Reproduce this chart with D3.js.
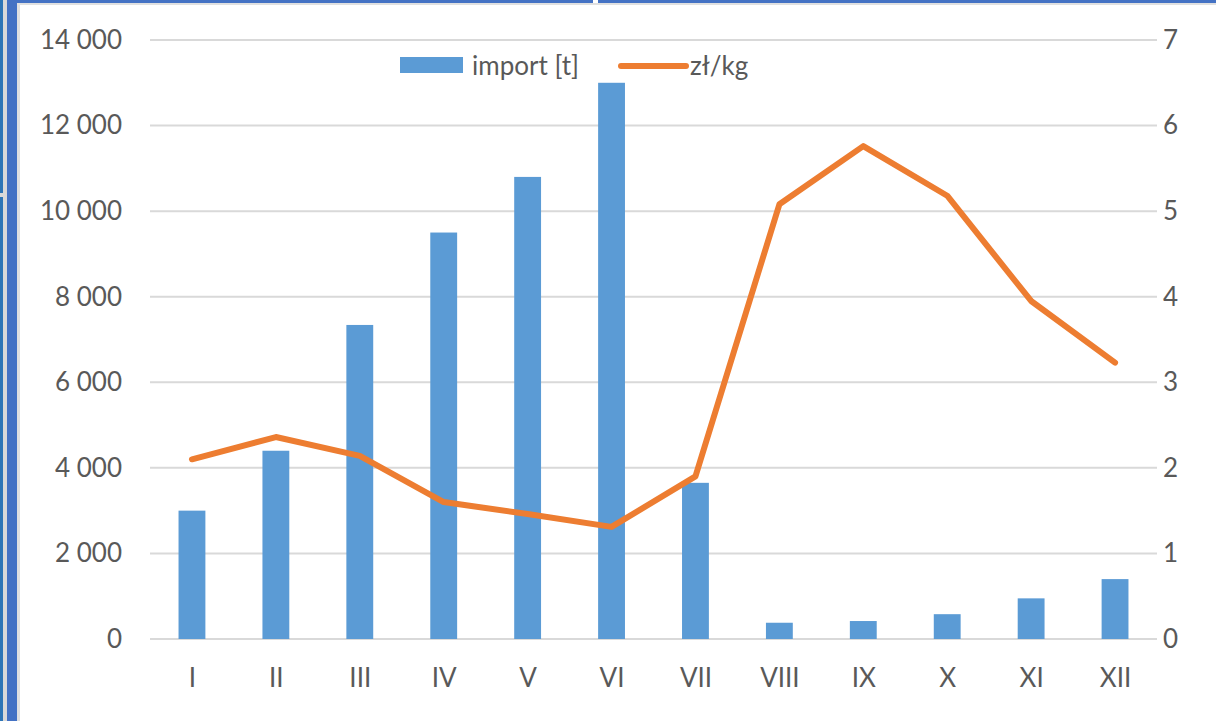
<!DOCTYPE html>
<html><head><meta charset="utf-8">
<script src="https://cdn.jsdelivr.net/npm/d3@7/dist/d3.min.js"></script>
<style>html,body{margin:0;padding:0;background:#fff;overflow:hidden}</style>
</head><body>
<svg id="c" width="1216" height="721"></svg>
<script>
const months = ["I","II","III","IV","V","VI","VII","VIII","IX","X","XI","XII"];
const importT = [3000,4400,7340,9500,10800,13000,3650,380,420,580,950,1400];
const pricePLN = [2.10,2.36,2.14,1.60,1.46,1.31,1.90,5.08,5.76,5.18,3.95,3.23];
const leftTicks = [0,2000,4000,6000,8000,10000,12000,14000];
const rightTicks = [0,1,2,3,4,5,6,7];
const seriesNames = ["import [t]","zł/kg"];

const svg = d3.select("#c");
const font = "Lato, 'Open Sans', sans-serif";
const fs = "26px";
const txt = "#595959";

// frame
svg.append("rect").attr("x",0).attr("y",0).attr("width",1216).attr("height",721).attr("fill","#fff");
svg.append("rect").attr("x",0).attr("y",0).attr("width",3).attr("height",721).attr("fill","#2E75B6");
svg.append("rect").attr("x",3).attr("y",0).attr("width",4).attr("height",721).attr("fill","#D9D9D9");
svg.append("rect").attr("x",0).attr("y",193).attr("width",7).attr("height",4).attr("fill","#D9D9D9");
svg.append("rect").attr("x",7).attr("y",0).attr("width",10).attr("height",721).attr("fill","#4472C4");
svg.append("rect").attr("x",17).attr("y",3).attr("width",3).attr("height",718).attr("fill","#E0E0E0");
svg.append("rect").attr("x",7).attr("y",0).attr("width",1209).attr("height",3).attr("fill","#4472C4");
svg.append("rect").attr("x",17).attr("y",3).attr("width",1199).attr("height",2).attr("fill","#E0E0E0");
svg.append("rect").attr("x",593).attr("y",0).attr("width",5).attr("height",3).attr("fill","#fff");

const x = d3.scaleBand().domain(months).range([150,1157]).paddingInner(0.68).paddingOuter(0.34);
const xc = d3.scalePoint().domain(months).range([150,1157]).padding(0.5);
const yL = d3.scaleLinear().domain([0,14000]).range([639,40]);
const yR = d3.scaleLinear().domain([0,7]).range([639,40]);

// gridlines
svg.append("g").selectAll("line").data(leftTicks).join("line")
  .attr("x1",150).attr("x2",1157).attr("y1",d=>yL(d)).attr("y2",d=>yL(d))
  .attr("stroke","#D9D9D9").attr("stroke-width",2);

const fmt = d => d3.format(",")(d).replace(/,/g," ");
// left axis
const gl = svg.append("g").attr("transform","translate(150,0)")
  .call(d3.axisLeft(yL).tickValues(leftTicks).tickFormat(fmt).tickSize(0).tickPadding(28));
gl.select(".domain").remove();
gl.selectAll("text").attr("fill",txt).style("font-family",font).style("font-size",fs);

// right axis
const gr = svg.append("g").attr("transform","translate(1157,0)")
  .call(d3.axisRight(yR).tickValues(rightTicks).tickFormat(d3.format("d")).tickSize(0).tickPadding(6));
gr.select(".domain").remove();
gr.selectAll("text").attr("fill",txt).style("font-family",font).style("font-size",fs);

// bars
svg.append("g").selectAll("rect").data(importT).join("rect")
  .attr("x",(d,i)=>x(months[i])).attr("width",x.bandwidth())
  .attr("y",d=>yL(d)).attr("height",d=>yL(0)-yL(d))
  .attr("fill","#5B9BD5");

// x axis labels
const gx = svg.append("g").attr("transform","translate(0,639)")
  .call(d3.axisBottom(xc).tickSize(0).tickPadding(30));
gx.select(".domain").remove();
gx.selectAll("text").attr("fill",txt).style("font-family",font).style("font-size",fs);

// line
const line = d3.line().x((d,i)=>xc(months[i])).y(d=>yR(d));
svg.append("path").datum(pricePLN).attr("d",line)
  .attr("fill","none").attr("stroke","#ED7D31").attr("stroke-width",6)
  .attr("stroke-linejoin","round").attr("stroke-linecap","round");

// legend
const lg = svg.append("g");
lg.append("rect").attr("x",400).attr("y",57).attr("width",63).attr("height",16).attr("fill","#5B9BD5");
lg.append("text").attr("x",472).attr("y",75).text(seriesNames[0])
  .attr("fill",txt).style("font-family",font).style("font-size",fs);
lg.append("line").attr("x1",621).attr("x2",686).attr("y1",66).attr("y2",66)
  .attr("stroke","#ED7D31").attr("stroke-width",6).attr("stroke-linecap","round");
lg.append("text").attr("x",690).attr("y",75).text(seriesNames[1])
  .attr("fill",txt).style("font-family",font).style("font-size",fs);
</script>
</body></html>
